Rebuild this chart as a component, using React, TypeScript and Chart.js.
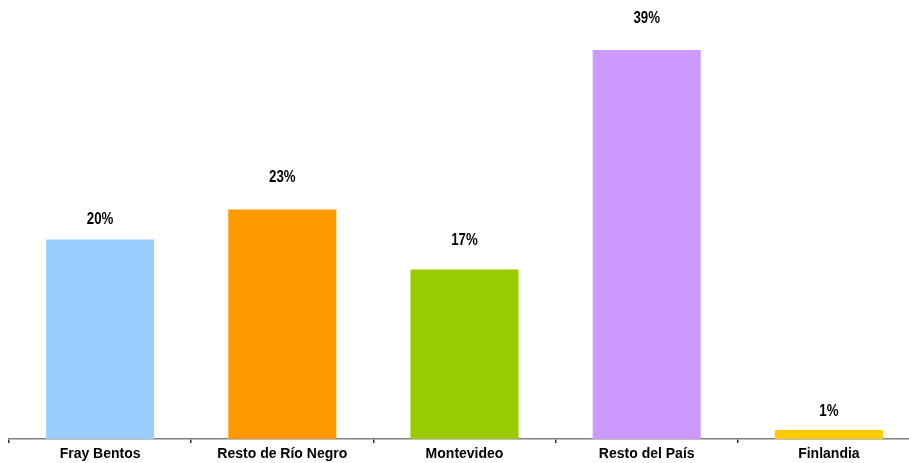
import React, { useEffect, useRef } from "react";
import { Chart, registerables } from "chart.js";

Chart.register(...registerables);

const categories = ["Fray Bentos", "Resto de Río Negro", "Montevideo", "Resto del País", "Finlandia"];
const values = [20, 23, 17, 39, 0.9];
const valueLabels = ["20%", "23%", "17%", "39%", "1%"];
const labelOffsets = [20, 32, 29, 32, 19];
const colors = ["#99CCFF", "#FF9900", "#99CC00", "#CC99FF", "#FFCC00"];

const labelPlugin = {
  id: "barLabels",
  afterDatasetsDraw(chart: any) {
    const ctx = chart.ctx;
    const meta = chart.getDatasetMeta(0);
    const sx = 0.78;
    meta.data.forEach((bar: any, i: number) => {
      ctx.save();
      ctx.font = "bold 17px 'Liberation Sans', Arial, sans-serif";
      ctx.fillStyle = "#000000";
      ctx.textAlign = "center";
      ctx.textBaseline = "middle";
      ctx.translate(bar.x, bar.y - labelOffsets[i]);
      ctx.scale(sx, 1);
      ctx.fillText(valueLabels[i], 0, 0);
      ctx.restore();
    });
  },
};

export default function App() {
  const ref = useRef<HTMLCanvasElement>(null);
  useEffect(() => {
    if (!ref.current) return;
    const chart = new Chart(ref.current, {
      type: "bar",
      data: {
        labels: categories,
        datasets: [
          {
            data: values,
            backgroundColor: colors,
            borderWidth: 0,
            categoryPercentage: 1,
            barPercentage: 0.593,
          },
        ],
      },
      options: {
        animation: false,
        responsive: false,
        devicePixelRatio: 1,
        layout: { padding: { top: 10, left: 9, right: 1, bottom: 0 } },
        plugins: { legend: { display: false }, tooltip: { enabled: false } },
        scales: {
          x: {
            grid: {
              display: true,
              drawOnChartArea: false,
              drawTicks: true,
              tickLength: 4,
              tickColor: "#303030",
              color: "#303030",
              lineWidth: 1.5,
              offset: true,
            },
            border: { display: true, color: "#808080", width: 1.5 },
            ticks: {
              color: "#000000",
              padding: 3,
              maxRotation: 0,
              autoSkip: false,
              font: { family: "'Liberation Sans', Arial, sans-serif", size: 14, weight: "bold" },
            },
            afterFit(scale: any) {
              scale.height = 24;
            },
          },
          y: {
            display: false,
            min: 0,
            max: 43,
          },
        },
      },
      plugins: [labelPlugin],
    });
    return () => chart.destroy();
  }, []);
  return (
    <div style={{ position: "absolute", left: 0, top: 0, width: 921, height: 463, background: "#fff" }}>
      <canvas ref={ref} width={921} height={463} style={{ display: "block" }} />
    </div>
  );
}
